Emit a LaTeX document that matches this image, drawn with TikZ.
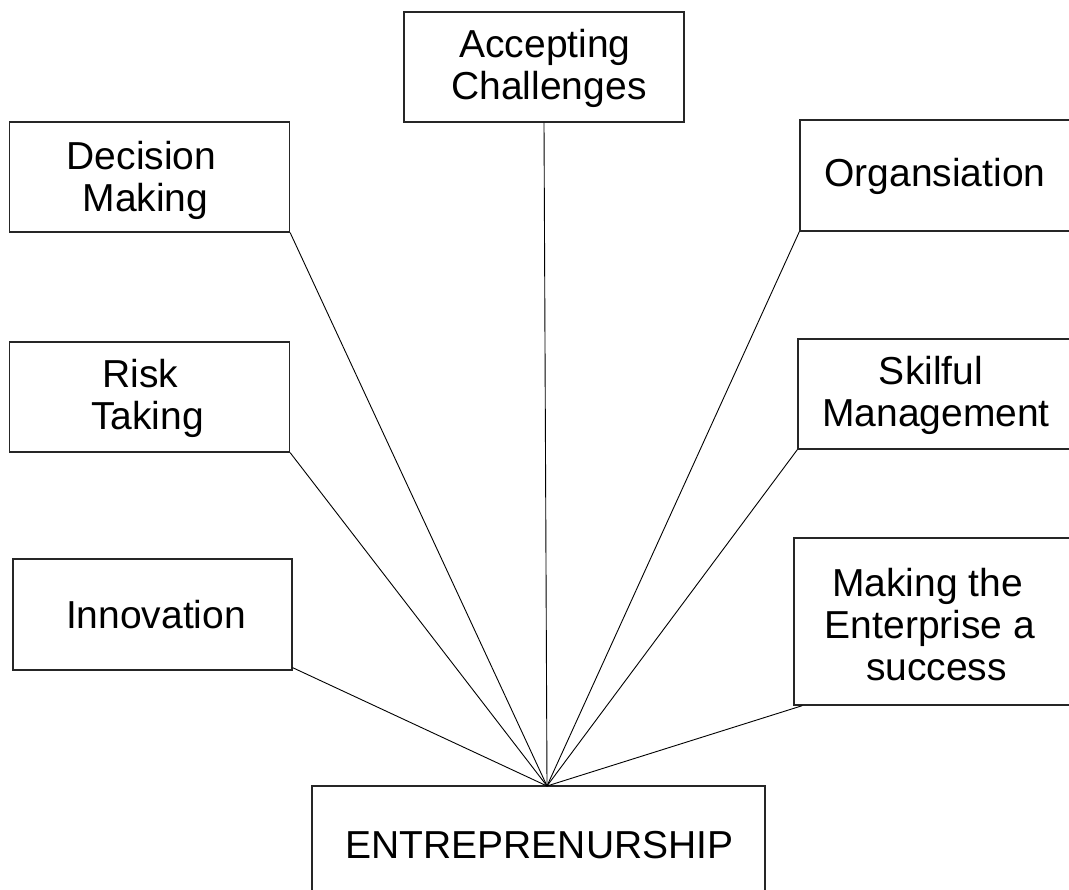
\documentclass[tikz,border=0pt]{standalone}
\usepackage{fontspec}
\setmainfont{Liberation Sans}
\usetikzlibrary{calc}
% one line of box text: #1 = horizontal offset, #2 = baseline drop below the node centre
\newcommand\bxline[3]{\raisebox{-#2pt}[0pt][0pt]{\kern#1pt\hbox to 0pt{\hss#3\hss}\kern-#1pt}}
\begin{document}
\begin{tikzpicture}[x=1pt,y=-1pt,
  box/.style={draw=black!85, line width=1.3pt, rectangle, inner sep=0pt,
    align=center, font=\fontsize{39}{42}\selectfont, text=black},
  link/.style={draw=black, line width=0.9pt}]
\useasboundingbox (0,0) rectangle (1069,890);
\clip (0,0) rectangle (1069,890);
\node[box, minimum width=280pt, minimum height=110pt] (acc) at (544,67)
  {\bxline{1}{12}{Accepting}\\\bxline{5}{12}{Challenges}};
\node[box, minimum width=280pt, minimum height=110pt] (dec) at (149.5,177)
  {\bxline{-8}{13.5}{Decision}\\\bxline{-4}{13.5}{Making}};
\node[box, minimum width=270pt, minimum height=111pt] (org) at (935,175.5)
  {\bxline{0}{11.5}{Organsiation}};
\node[box, minimum width=280pt, minimum height=110pt] (risk) at (149.5,397)
  {\bxline{-9}{12}{Risk}\\\bxline{-2}{12}{Taking}};
\node[box, minimum width=272pt, minimum height=110pt] (skm) at (934,394)
  {\bxline{-3}{12}{Skilful}\\\bxline{2}{12}{Management}};
\node[box, minimum width=279pt, minimum height=111pt] (inn) at (152.5,614.5)
  {\bxline{3.5}{13.5}{Innovation}};
\node[box, minimum width=276pt, minimum height=167pt] (mak) at (932,621.5)
  {\bxline{-4.5}{17}{Making the}\\\bxline{-2}{17}{Enterprise a}\\\bxline{4.5}{17}{success}};
\node[box, minimum width=453pt, minimum height=112pt] (ent) at (538.5,842)
  {\bxline{1}{16}{ENTREPRENURSHIP}};
\coordinate (hub) at (547,786);
\draw[link] (acc.south) -- (hub);
\draw[link] (dec.south east) -- (hub);
\draw[link] (org.south west) -- (hub);
\draw[link] (risk.south east) -- (hub);
\draw[link] (skm.south west) -- (hub);
\draw[link] ([yshift=3pt]inn.south east) -- (hub);
\draw[link] ([xshift=9pt]mak.south west) -- (hub);
\end{tikzpicture}
\end{document}
